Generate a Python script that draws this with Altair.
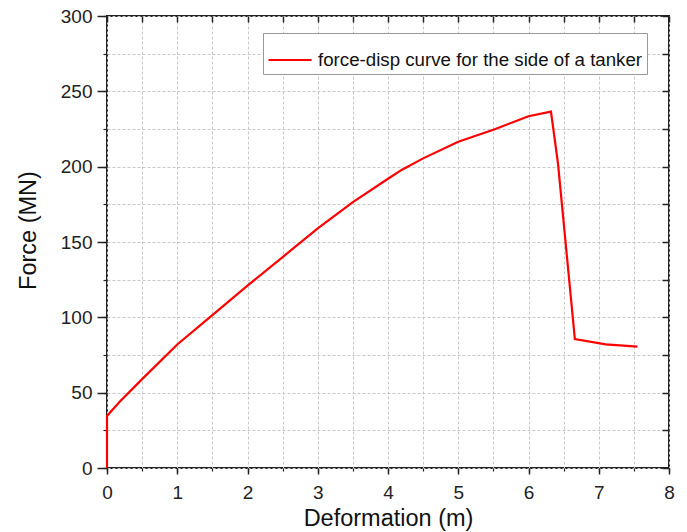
import altair as alt
import pandas as pd

# Data
deformation = [0.0, 0.0, 0.18, 0.5, 1.0, 1.5, 2.0, 2.5, 3.0, 3.5, 4.0, 4.2, 4.5,
               5.0, 5.5, 6.0, 6.32, 6.42, 6.66, 7.1, 7.55]
force = [0.0, 34.5, 44.0, 59.0, 82.0, 101.5, 121.0, 140.0, 159.0, 176.5, 192.0,
         198.0, 205.5, 216.5, 224.5, 233.5, 236.5, 202.0, 85.6, 82.0, 80.5]
series_name = "force-disp curve for the side of a tanker"

x_major = [0, 1, 2, 3, 4, 5, 6, 7, 8]
x_minor = [i * 0.5 for i in range(17)]
y_major = [0, 50, 100, 150, 200, 250, 300]
y_minor = [i * 25 for i in range(13)]

df = pd.DataFrame({
    "Deformation": deformation,
    "Force": force,
    "order": list(range(len(force))),
    "series": [series_name] * len(force),
})

FONT = "Liberation Sans"
xscale = alt.Scale(domain=[0, 8], nice=False, zero=False)
yscale = alt.Scale(domain=[0, 300], nice=False, zero=False)

base = alt.Chart(df)

# main curve with labelled major axes
main = base.mark_line(color="#ff0000", strokeWidth=2.2).encode(
    x=alt.X("Deformation:Q", scale=xscale,
            axis=alt.Axis(orient="bottom", values=x_major, title="Deformation (m)",
                          grid=False, domain=False, tickSize=6, tickWidth=1.5,
                          tickColor="#222", labelPadding=9, labelFontSize=19,
                          labelFlush=False, labelFont=FONT, labelColor="#222",
                          titleFont=FONT, titleFontSize=23.5,
                          titleFontWeight="normal", titleColor="#111",
                          titlePadding=4, format="d")),
    y=alt.Y("Force:Q", scale=yscale,
            axis=alt.Axis(orient="left", values=y_major, title="Force (MN)",
                          grid=False, domain=False, tickSize=10, tickWidth=1.5,
                          tickColor="#222", labelPadding=5, labelFontSize=19,
                          labelFlush=False, labelFont=FONT, labelColor="#222",
                          titleFont=FONT, titleFontSize=23.5,
                          titleFontWeight="normal", titleColor="#111",
                          titlePadding=20, titleY=214, format="d")),
    order="order:Q",
    color=alt.Color("series:N", scale=alt.Scale(range=["#ff0000"]),
                    legend=alt.Legend(title=None, orient="none", legendX=156,
                                      legendY=17, symbolType="stroke",
                                      symbolSize=1849, symbolStrokeWidth=2.2,
                                      labelFont=FONT, labelFontSize=18.7,
                                      labelColor="#111", labelOffset=5,
                                      padding=4, strokeColor="#999",
                                      fillColor="white", labelLimit=600)),
)

# grid and minor ticks
grid = base.mark_line(strokeOpacity=0).encode(
    x=alt.X("Deformation:Q", scale=xscale,
            axis=alt.Axis(orient="bottom", values=x_minor, title=None, labels=False,
                          domain=False, tickSize=3, tickWidth=1.2, tickColor="#222",
                          grid=True, gridColor="#c8c8c8", gridDash=[3, 2],
                          gridWidth=1)),
    y=alt.Y("Force:Q", scale=yscale,
            axis=alt.Axis(orient="left", values=y_minor, title=None, labels=False,
                          domain=False, tickSize=4, tickWidth=1.2, tickColor="#222",
                          grid=True, gridColor="#c8c8c8", gridDash=[3, 2],
                          gridWidth=1)),
    order="order:Q",
)

# inward ticks on the top and right
frame = base.mark_line(strokeOpacity=0).encode(
    x=alt.X("Deformation:Q", scale=xscale,
            axis=alt.Axis(orient="top", values=x_minor, title=None, labels=False,
                          domain=False, tickSize=6, tickWidth=1.5, tickColor="#222",
                          offset=-6, grid=False)),
    y=alt.Y("Force:Q", scale=yscale,
            axis=alt.Axis(orient="right", values=y_minor, title=None, labels=False,
                          domain=False, tickSize=7, tickWidth=1.5, tickColor="#222",
                          offset=-7, grid=False)),
    order="order:Q",
)

chart = alt.layer(grid, frame, main).resolve_axis(
    x="independent", y="independent"
).properties(
    width=562, height=452, autosize="none",
    padding={"left": 107, "top": 16, "right": 18, "bottom": 64},
    background="white",
).configure_view(stroke="#222", strokeWidth=2)

chart.save("out.html", embed_options={"renderer": "svg", "actions": False})
